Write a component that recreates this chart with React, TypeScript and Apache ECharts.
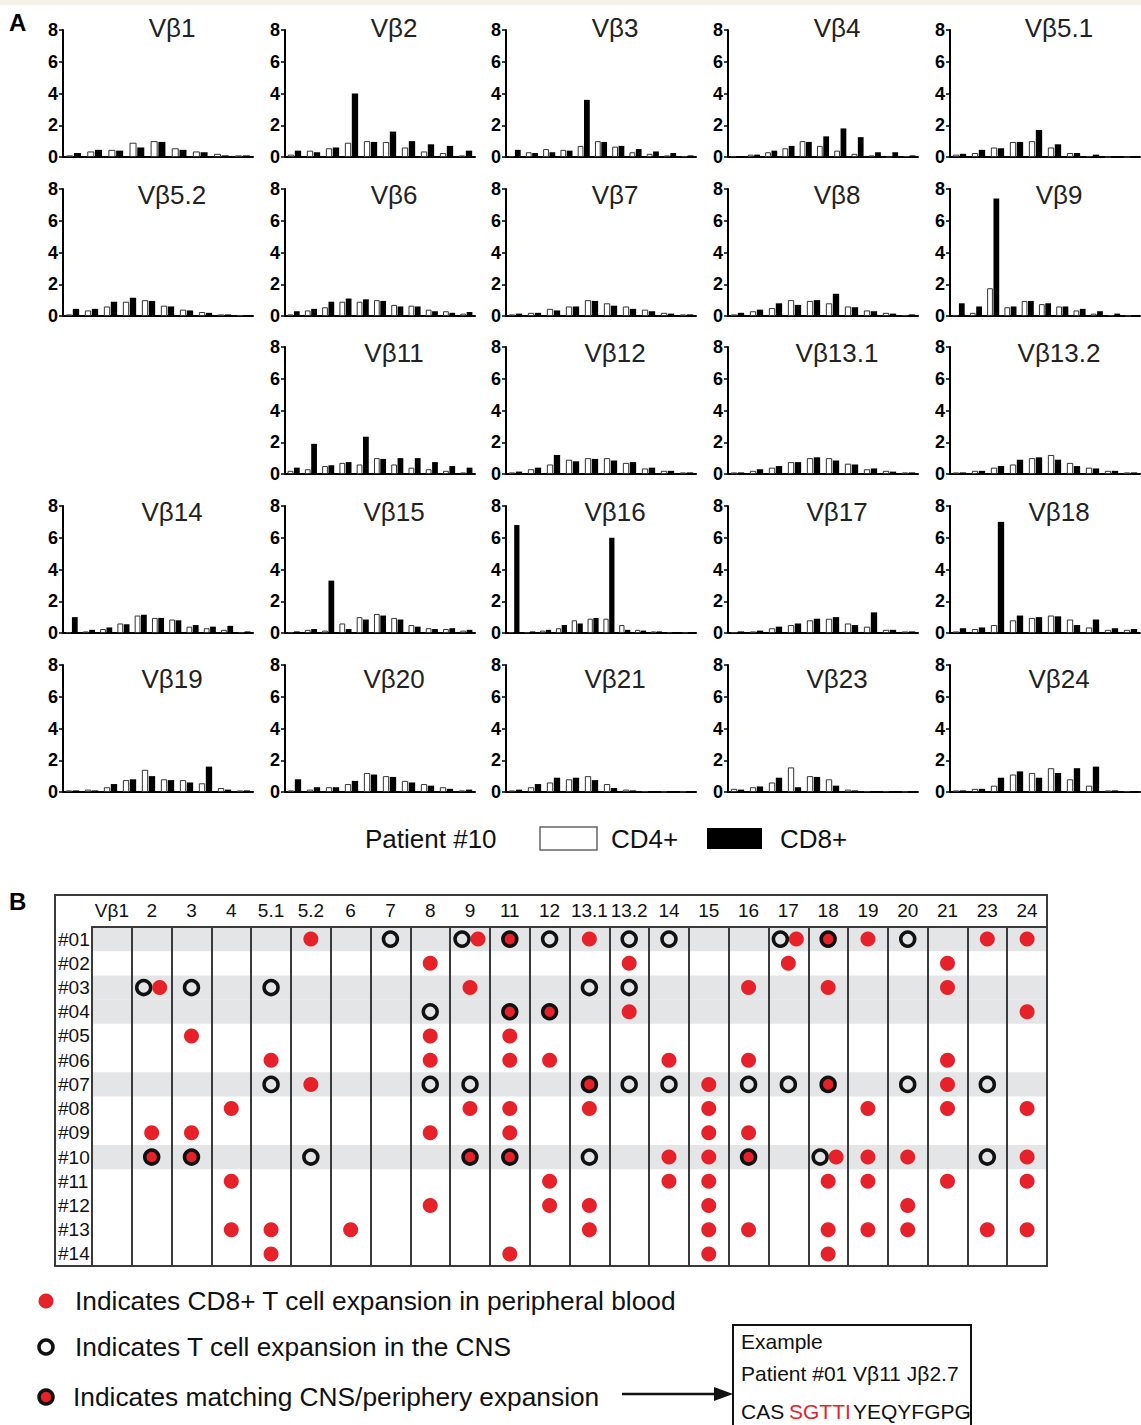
import { useEffect, useRef } from 'react';
import * as echarts from 'echarts';

const FONT = "'Liberation Sans', Arial, Helvetica, sans-serif";
const RED = '#e62129';
const LINE = '#3a3a3a';

// ---------- Panel A data ----------
const panelOrder = ['1', '2', '3', '4', '5.1', '5.2', '6', '7', '8', '9', '', '11', '12', '13.1', '13.2', '14', '15', '16', '17', '18', '19', '20', '21', '23', '24'];
const vbFamilies = ['1', '2', '3', '4', '5.1', '5.2', '6', '7', '8', '9', '11', '12', '13.1', '13.2', '14', '15', '16', '17', '18', '19', '20', '21', '23', '24'];
const cd4Values: number[][] = [
  [0.1, 0.35, 0.45, 0.9, 1.0, 0.55, 0.35, 0.2, 0.1],
  [0.15, 0.4, 0.55, 0.9, 1.0, 0.95, 0.6, 0.35, 0.25, 0.1],
  [0.05, 0.3, 0.5, 0.45, 0.7, 1.0, 0.65, 0.3, 0.2, 0.1, 0.05],
  [0.05, 0.15, 0.3, 0.55, 1.0, 0.7, 0.4, 0.2, 0.1, 0.0, 0.05],
  [0.15, 0.25, 0.6, 0.95, 1.0, 0.6, 0.25, 0.05, 0.0, 0.0],
  [0.1, 0.35, 0.6, 0.9, 1.0, 0.65, 0.4, 0.25, 0.1, 0.05],
  [0.1, 0.35, 0.55, 0.9, 0.9, 1.0, 0.7, 0.65, 0.4, 0.3, 0.15],
  [0.1, 0.2, 0.45, 0.6, 1.0, 0.8, 0.6, 0.4, 0.2, 0.1],
  [0.1, 0.3, 0.5, 1.0, 0.95, 0.8, 0.6, 0.35, 0.2, 0.05],
  [0.05, 0.2, 1.75, 0.55, 0.95, 0.75, 0.6, 0.35, 0.15, 0.05, 0.02],
  [0.2, 0.3, 0.5, 0.7, 0.6, 1.0, 0.6, 0.4, 0.3, 0.2, 0.1],
  [0.1, 0.3, 0.6, 0.9, 1.0, 1.0, 0.7, 0.35, 0.2, 0.1],
  [0.1, 0.2, 0.4, 0.75, 1.0, 1.0, 0.65, 0.3, 0.2, 0.1],
  [0.1, 0.2, 0.4, 0.6, 1.0, 1.2, 0.7, 0.4, 0.2, 0.1],
  [0.05, 0.1, 0.25, 0.6, 1.1, 0.95, 0.85, 0.4, 0.3, 0.2, 0.05],
  [0.05, 0.2, 0.15, 0.6, 1.0, 1.2, 0.95, 0.5, 0.3, 0.25, 0.15],
  [0.05, 0.05, 0.15, 0.3, 0.8, 0.9, 0.9, 0.5, 0.2, 0.1, 0.05, 0.02],
  [0.05, 0.1, 0.3, 0.5, 0.8, 0.9, 0.6, 0.4, 0.2, 0.1],
  [0.1, 0.25, 0.5, 0.8, 0.95, 1.1, 0.85, 0.35, 0.2, 0.2],
  [0.1, 0.15, 0.3, 0.75, 1.4, 0.8, 0.75, 0.55, 0.25, 0.1],
  [0.1, 0.15, 0.3, 0.5, 1.2, 1.0, 0.7, 0.5, 0.3, 0.1],
  [0.1, 0.3, 0.6, 0.8, 1.0, 0.5, 0.15, 0.05, 0.02, 0.02],
  [0.2, 0.3, 0.6, 1.55, 1.0, 0.8, 0.15, 0.05, 0.05, 0.02],
  [0.1, 0.2, 0.4, 1.1, 1.2, 1.5, 0.8, 0.4, 0.1, 0.05],
];
const cd8Values: number[][] = [
  [0.25, 0.45, 0.4, 0.6, 0.95, 0.45, 0.3, 0.1, 0.1],
  [0.4, 0.3, 0.6, 4.0, 0.95, 1.6, 1.0, 0.8, 0.7, 0.4],
  [0.45, 0.25, 0.3, 0.4, 3.6, 0.95, 0.7, 0.5, 0.35, 0.25, 0.1],
  [0.05, 0.15, 0.4, 0.7, 0.95, 1.3, 1.8, 1.25, 0.3, 0.3, 0.1],
  [0.2, 0.45, 0.55, 0.95, 1.7, 0.8, 0.25, 0.15, 0.05, 0.02],
  [0.45, 0.45, 0.9, 1.15, 0.95, 0.6, 0.35, 0.2, 0.1, 0.05],
  [0.3, 0.45, 0.9, 1.1, 1.05, 0.95, 0.6, 0.6, 0.3, 0.2, 0.25],
  [0.15, 0.2, 0.35, 0.6, 0.95, 0.65, 0.45, 0.3, 0.15, 0.1],
  [0.2, 0.4, 0.8, 0.7, 1.0, 1.4, 0.55, 0.3, 0.15, 0.1],
  [0.8, 0.6, 7.4, 0.6, 0.95, 0.8, 0.6, 0.45, 0.3, 0.15, 0.05],
  [0.4, 1.9, 0.55, 0.75, 2.35, 0.95, 1.0, 1.0, 0.75, 0.5, 0.4],
  [0.15, 0.4, 1.2, 0.8, 0.95, 0.85, 0.75, 0.4, 0.2, 0.1],
  [0.1, 0.3, 0.5, 0.75, 1.05, 0.85, 0.6, 0.35, 0.15, 0.1],
  [0.1, 0.2, 0.5, 0.9, 1.05, 0.9, 0.5, 0.35, 0.2, 0.1],
  [1.0, 0.2, 0.35, 0.55, 1.15, 0.95, 0.8, 0.5, 0.4, 0.45, 0.1],
  [0.1, 0.25, 3.3, 0.25, 0.85, 1.1, 0.85, 0.4, 0.25, 0.3, 0.2],
  [6.8, 0.1, 0.2, 0.5, 0.6, 0.95, 6.0, 0.2, 0.15, 0.1, 0.05, 0.02],
  [0.1, 0.15, 0.4, 0.6, 0.9, 1.0, 0.5, 1.3, 0.2, 0.1],
  [0.3, 0.35, 7.0, 1.1, 1.0, 1.05, 0.5, 0.85, 0.3, 0.25],
  [0.1, 0.1, 0.5, 0.8, 1.0, 0.75, 0.6, 1.6, 0.15, 0.1],
  [0.8, 0.3, 0.3, 0.7, 1.1, 0.95, 0.6, 0.4, 0.2, 0.15],
  [0.15, 0.5, 0.9, 0.9, 0.75, 0.25, 0.1, 0.05, 0.02, 0.02],
  [0.15, 0.35, 0.9, 0.3, 0.95, 0.4, 0.1, 0.05, 0.05, 0.02],
  [0.1, 0.2, 0.9, 1.3, 0.9, 1.2, 1.5, 1.6, 0.1, 0.05],
];
const yTicks = [0, 2, 4, 6, 8];

// ---------- Panel B data ----------
const vbColumns = ['1', '2', '3', '4', '5.1', '5.2', '6', '7', '8', '9', '11', '12', '13.1', '13.2', '14', '15', '16', '17', '18', '19', '20', '21', '23', '24'];
const patients = ['#01', '#02', '#03', '#04', '#05', '#06', '#07', '#08', '#09', '#10', '#11', '#12', '#13', '#14'];
const shadedRows = ['#01', '#03', '#04', '#07', '#10'];
const bloodExpansion: string[][] = [
  ['5.2', '9', '13.1', '17', '19', '23', '24'],
  ['8', '13.2', '17', '21'],
  ['2', '9', '16', '18', '21'],
  ['13.2', '24'],
  ['3', '8', '11'],
  ['5.1', '8', '11', '12', '14', '16', '21'],
  ['5.2', '15', '21'],
  ['4', '9', '11', '13.1', '15', '19', '21', '24'],
  ['2', '3', '8', '11', '15', '16'],
  ['14', '15', '18', '19', '20', '24'],
  ['4', '12', '14', '15', '18', '19', '21', '24'],
  ['8', '12', '13.1', '15', '20'],
  ['4', '5.1', '6', '13.1', '15', '16', '18', '19', '20', '23', '24'],
  ['5.1', '11', '15', '18'],
];
const cnsExpansion: string[][] = [
  ['7', '9', '12', '13.2', '14', '17', '20'],
  [],
  ['2', '3', '5.1', '13.1', '13.2'],
  ['8'],
  [],
  [],
  ['5.1', '8', '9', '13.2', '14', '16', '17', '20', '23'],
  [],
  [],
  ['5.2', '13.1', '18', '23'],
  [],
  [],
  [],
  [],
];
const matchedExpansion: string[][] = [
  ['11', '18'],
  [],
  [],
  ['11', '12'],
  [],
  [],
  ['13.1', '18'],
  [],
  [],
  ['2', '3', '9', '11', '16'],
  [],
  [],
  [],
  [],
];

const COL_LEFT = [63, 285, 506, 728, 950];
const ROW_TOP = [30, 189, 347, 506, 665];
const TITLE_Y = [28, 195, 353, 512, 679];

function buildOption() {
  const grid: any[] = [];
  const xAxis: any[] = [];
  const yAxis: any[] = [];
  const series: any[] = [];
  const graphic: any[] = [];
  let gi = 0;

  panelOrder.forEach((name, slot) => {
    if (!name) return;
    const r = Math.floor(slot / 5);
    const c = slot % 5;
    const k = vbFamilies.indexOf(name);
    const cd4 = cd4Values[k];
    const cd8 = cd8Values[k];
    grid.push({ left: COL_LEFT[c], top: ROW_TOP[r], width: 190, height: 127 });
    xAxis.push({
      type: 'category', gridIndex: gi, data: cd4.map((_, i) => String(i + 1)),
      axisLine: { show: true, lineStyle: { color: '#000', width: 2 } },
      axisTick: { show: false }, axisLabel: { show: false }, splitLine: { show: false },
    });
    yAxis.push({
      type: 'value', gridIndex: gi, min: yTicks[0], max: yTicks[yTicks.length - 1], interval: 2,
      axisLine: { show: true, lineStyle: { color: '#000', width: 2 } },
      axisTick: { show: true, length: 4, lineStyle: { color: '#000', width: 1.5 } },
      axisLabel: { fontFamily: FONT, fontSize: 18, fontWeight: 'bold', color: '#000', margin: 5 },
      splitLine: { show: false },
    });
    series.push({
      type: 'bar', name: 'CD4+', xAxisIndex: gi, yAxisIndex: gi, data: cd4,
      barGap: '10%', barCategoryGap: '30%',
      itemStyle: { color: '#fff', borderColor: '#333', borderWidth: 1 },
    });
    series.push({
      type: 'bar', name: 'CD8+', xAxisIndex: gi, yAxisIndex: gi, data: cd8,
      barGap: '10%', barCategoryGap: '30%',
      itemStyle: { color: '#000' },
    });
    graphic.push({
      type: 'text', x: COL_LEFT[c] + 109, y: TITLE_Y[r],
      style: { text: 'Vβ' + name, fontFamily: FONT, fontSize: 26, fill: '#222', align: 'center', verticalAlign: 'middle', textAlign: 'center', textVerticalAlign: 'middle' },
    });
    gi++;
  });

  // ---------- Panel B ----------
  const bIdx = gi;
  grid.push({ left: 92, top: 927, width: 955, height: 339 });
  xAxis.push({
    type: 'category', gridIndex: bIdx, position: 'top', data: vbColumns, z: 5,
    axisLine: { show: true, lineStyle: { color: LINE, width: 2 } },
    axisTick: { show: false },
    axisLabel: { interval: 0, fontFamily: FONT, fontSize: 19, color: '#111', margin: 7, formatter: (v: string, i: number) => (i === 0 ? 'Vβ' + v : v) },
    splitLine: { show: true, interval: 0, lineStyle: { color: LINE, width: 2 } },
  });
  yAxis.push({
    type: 'category', gridIndex: bIdx, data: patients, inverse: true, z: 5,
    axisLine: { show: true, lineStyle: { color: LINE, width: 2 } },
    axisTick: { show: false },
    axisLabel: { interval: 0, fontFamily: FONT, fontSize: 19, color: '#111', align: 'left', margin: 34 },
    splitLine: { show: false },
  });
  const bandIdx = gi + 1;
  grid.push({ left: 92, top: 927, width: 955, height: 339 });
  xAxis.push({ type: 'value', gridIndex: bandIdx, min: 0, max: 1, show: false });
  yAxis.push({ type: 'category', gridIndex: bandIdx, data: patients, inverse: true, show: false });
  series.push({
    type: 'bar', xAxisIndex: bandIdx, yAxisIndex: bandIdx, silent: true, z: 0,
    barWidth: '100%',
    data: patients.map((p) => (shadedRows.includes(p) ? 1 : 0)),
    itemStyle: { color: '#e4e5e6' },
  });

  const openData: any[] = [];
  const redData: any[] = [];
  const matchData: any[] = [];
  patients.forEach((p, ri) => {
    const blood = bloodExpansion[ri];
    const cns = cnsExpansion[ri];
    cns.forEach((col) => {
      const paired = blood.includes(col);
      openData.push({ value: [col, p], symbolOffset: paired ? [-8, 0] : [0, 0] });
    });
    blood.forEach((col) => {
      const paired = cns.includes(col);
      redData.push({ value: [col, p], symbolOffset: paired ? [8, 0] : [0, 0] });
    });
    matchedExpansion[ri].forEach((col) => matchData.push({ value: [col, p] }));
  });
  series.push({
    type: 'scatter', xAxisIndex: bIdx, yAxisIndex: bIdx, z: 3, symbol: 'circle', symbolSize: 14,
    itemStyle: { color: 'rgba(0,0,0,0)', borderColor: '#111', borderWidth: 3.5, opacity: 1 }, data: openData,
  });
  series.push({
    type: 'scatter', xAxisIndex: bIdx, yAxisIndex: bIdx, z: 4, symbol: 'circle', symbolSize: 15,
    itemStyle: { color: RED, opacity: 1 }, data: redData,
  });
  series.push({
    type: 'scatter', xAxisIndex: bIdx, yAxisIndex: bIdx, z: 4, symbol: 'circle', symbolSize: 14,
    itemStyle: { color: RED, borderColor: '#111', borderWidth: 3.5, opacity: 1 }, data: matchData,
  });

  const txt = (text: string, x: number, y: number, size: number, extra: any = {}) => ({
    type: 'text', x, y,
    style: { text, fontFamily: FONT, fontSize: size, fill: '#111', align: 'left', verticalAlign: 'middle', textAlign: 'left', textVerticalAlign: 'middle', ...extra },
  });

  graphic.push(
    { type: 'rect', shape: { x: 0, y: 0, width: 1141, height: 5 }, style: { fill: '#f4f2e6' } },
    txt('A', 9, 22, 24, { fontWeight: 'bold', fill: '#000' }),
    txt('B', 9, 901, 24, { fontWeight: 'bold', fill: '#000' }),
    // Panel A legend
    txt('Patient #10', 365, 839, 26),
    { type: 'rect', shape: { x: 540, y: 827, width: 57, height: 23 }, style: { fill: '#fff', stroke: '#666', lineWidth: 1.5 } },
    txt('CD4+', 611, 839, 26),
    { type: 'rect', shape: { x: 707, y: 828, width: 55, height: 21 }, style: { fill: '#000' } },
    txt('CD8+', 780, 839, 26),
    // Table border
    { type: 'rect', z: 10, shape: { x: 55, y: 895, width: 992, height: 371 }, style: { fill: 'none', stroke: LINE, lineWidth: 2 } },
    // Panel B legend
    { type: 'circle', shape: { cx: 46, cy: 1301, r: 7.5 }, style: { fill: RED } },
    txt('Indicates CD8+ T cell expansion in peripheral blood', 75, 1301, 26.3),
    { type: 'circle', shape: { cx: 46, cy: 1347, r: 7 }, style: { fill: 'none', stroke: '#111', lineWidth: 3.5 } },
    txt('Indicates T cell expansion in the CNS', 75, 1347, 26.3),
    { type: 'circle', shape: { cx: 46, cy: 1397, r: 7 }, style: { fill: RED, stroke: '#111', lineWidth: 3.5 } },
    txt('Indicates matching CNS/periphery expansion', 73, 1397, 26.3),
    { type: 'line', shape: { x1: 622, y1: 1394, x2: 716, y2: 1394 }, style: { stroke: '#111', lineWidth: 2.5 } },
    { type: 'polygon', shape: { points: [[733, 1394], [714, 1387], [714, 1401]] }, style: { fill: '#111' } },
    { type: 'rect', shape: { x: 733, y: 1325, width: 238, height: 110 }, style: { fill: '#fff', stroke: '#111', lineWidth: 2 } },
    txt('Example', 741, 1341, 21),
    txt('Patient #01 Vβ11 Jβ2.7', 741, 1373, 21),
    txt('CAS', 741, 1411, 21),
    txt('SGTTI', 789, 1411, 21, { fill: RED }),
    txt('YEQYFGPG', 853, 1411, 21),
  );

  return { animation: false, backgroundColor: '#fff', grid, xAxis, yAxis, series, graphic };
}

export default function App() {
  const ref = useRef<HTMLDivElement>(null);
  useEffect(() => {
    if (!ref.current) return;
    const chart = echarts.init(ref.current, undefined, { renderer: 'svg' });
    chart.setOption(buildOption() as any);
    return () => chart.dispose();
  }, []);
  return <div ref={ref} style={{ position: 'absolute', left: 0, top: 0, width: 1141, height: 1425, background: '#fff' }} />;
}
